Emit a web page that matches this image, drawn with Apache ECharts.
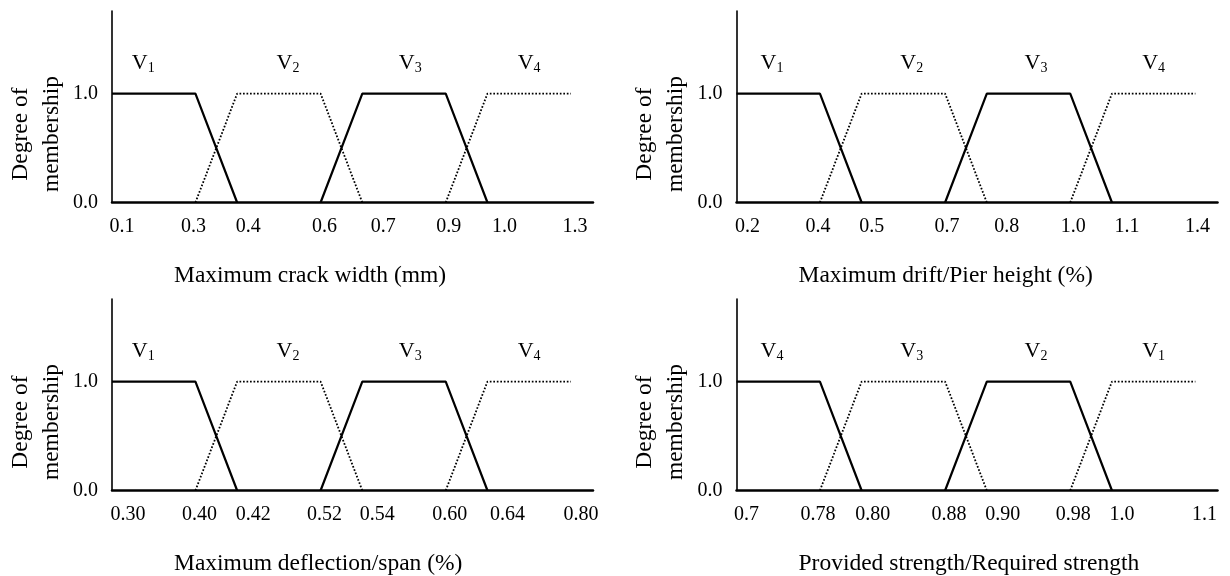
<!DOCTYPE html>
<html><head><meta charset="utf-8">
<script src="https://cdn.jsdelivr.net/npm/echarts@6/dist/echarts.min.js"></script>
<style>html,body{margin:0;padding:0;background:#fff}#c{width:1230px;height:576px}</style>
</head><body><div id="c"></div>
<script>
const FONT = '"Liberation Serif","Times New Roman",serif';

// Ordinal axis: slot of each breakpoint along the axis
const breakSlots = [0, 2, 3, 5, 6, 8, 9, 11];

// Tick labels (breakpoint values) per panel
const ticksCrack    = ['0.1','0.3','0.4','0.6','0.7','0.9','1.0','1.3'];
const ticksDrift    = ['0.2','0.4','0.5','0.7','0.8','1.0','1.1','1.4'];
const ticksDefl     = ['0.30','0.40','0.42','0.52','0.54','0.60','0.64','0.80'];
const ticksStrength = ['0.7','0.78','0.80','0.88','0.90','0.98','1.0','1.1'];

const axisTitles = ['Maximum crack width (mm)', 'Maximum drift/Pier height (%)',
                    'Maximum deflection/span (%)', 'Provided strength/Required strength'];

// Grade subscripts, left to right
const gradesAsc  = ['1','2','3','4'];
const gradesDesc = ['4','3','2','1'];

// Membership functions: [breakpoint index, degree of membership]
const mfA = [[0,1],[1,1],[2,0]];
const mfB = [[1,0],[2,1],[3,1],[4,0]];
const mfC = [[3,0],[4,1],[5,1],[6,0]];
const mfD = [[5,0],[6,1],[7,1]];

// ---------- layout / styling ----------
const W = 481, H = 191.5, X_MAX = 11.53, Y_MAX = 1.758;
const TICK_FS = 20, TITLE_FS = 23.5;
const panels = [
  {left:112,   top:11,  ticks:ticksCrack,    title:axisTitles[0], grades:gradesAsc,  shift:[10,-2,11,4,21,3,17,4],  vSlots:[0.75,4.22,7.15,10.0]},
  {left:736.5, top:11,  ticks:ticksDrift,    title:axisTitles[1], grades:gradesAsc,  shift:[11,-2,10,2,20,3,15,2],  vSlots:[0.85,4.2,7.18,10.0]},
  {left:112,   top:299, ticks:ticksDefl,     title:axisTitles[2], grades:gradesAsc,  shift:[16,4,16,4,15,4,20,10],  vSlots:[0.75,4.22,7.15,10.0]},
  {left:736.5, top:299, ticks:ticksStrength, title:axisTitles[3], grades:gradesDesc, shift:[10,-2,11,4,16,3,10,9],  vSlots:[0.85,4.2,7.18,10.0]}
];
const mfs = [mfA, mfB, mfC, mfD];
const mfStyle = [
  {width:2.2, type:'solid'},
  {width:1.8, type:[1.7,1.8]},
  {width:2.2, type:'solid'},
  {width:1.8, type:[1.7,1.8]}
];

const grid = [], xAxis = [], yAxis = [], series = [], title = [], graphic = [];
panels.forEach((p, i) => {
  grid.push({left:p.left, top:p.top, width:W, height:H, containLabel:false});
  const rich = {};
  p.shift.forEach((s, k) => {
    rich['t'+k] = {fontFamily:FONT, fontSize:TICK_FS, color:'#000',
      padding: s >= 0 ? [0,0,0,2*s] : [0,-2*s,0,0]};
  });
  xAxis.push({
    type:'value', gridIndex:i, min:0, max:X_MAX, interval:1,
    splitLine:{show:false}, axisTick:{show:false},
    axisLine:{lineStyle:{color:'#000', width:2.5}},
    axisLabel:{margin:14, fontFamily:FONT, fontSize:TICK_FS, color:'#000',
      showMaxLabel:false, rich,
      formatter: v => {
        const k = breakSlots.indexOf(Math.round(v));
        if (Math.abs(v - Math.round(v)) > 1e-6 || k < 0) return '';
        return '{t'+k+'|'+p.ticks[k]+'}';
      }}
  });
  yAxis.push({
    type:'value', gridIndex:i, min:0, max:Y_MAX, interval:1,
    splitLine:{show:false}, axisTick:{show:false},
    axisLine:{show:true, lineStyle:{color:'#000', width:1.6}},
    axisLabel:{margin:14, fontFamily:FONT, fontSize:TICK_FS, color:'#000',
      showMaxLabel:false,
      formatter: v => (v === 0 || v === 1) ? v.toFixed(1) : ''}
  });
  mfs.forEach((mf, m) => {
    series.push({
      type:'line', xAxisIndex:i, yAxisIndex:i, symbol:'none', silent:true,
      data: mf.map(([b, d]) => [breakSlots[b], d]),
      lineStyle:{color:'#000', width:mfStyle[m].width, type:mfStyle[m].type},
      clip:false
    });
  });
  series.push({
    type:'scatter', xAxisIndex:i, yAxisIndex:i, symbolSize:0, silent:true,
    itemStyle:{color:'#000', opacity:1},
    data: p.grades.map((g, m) => ({value:[p.vSlots[m], 1.28], sub:g})),
    label:{show:true, position:'inside', color:'#000', opacity:1, fontFamily:FONT, fontSize:22,
      textBorderWidth:0,
      formatter: prm => '{v|V}{s|' + prm.data.sub + '}',
      rich:{
        v:{fontFamily:FONT, fontSize:22, color:'#000', textBorderWidth:0},
        s:{fontFamily:FONT, fontSize:14, color:'#000', padding:[10,0,0,0], textBorderWidth:0}
      }}
  });
  title.push({text:p.title, left:p.left + 62, top:p.top + 253, padding:0,
    textStyle:{fontFamily:FONT, fontSize:TITLE_FS, fontWeight:'normal', color:'#000'}});
  graphic.push({type:'text', x:p.left - 76, y:p.top + 123, rotation:Math.PI/2,
    style:{text:'Degree of\nmembership', font:TITLE_FS + 'px ' + FONT, fill:'#000',
      align:'center', verticalAlign:'middle', textAlign:'center', textVerticalAlign:'middle', lineHeight:31}});
});

const chart = echarts.init(document.getElementById('c'), null, {renderer:'canvas'});
chart.setOption({animation:false, backgroundColor:'#fff', title, grid, xAxis, yAxis, series, graphic});
</script>
</body></html>
